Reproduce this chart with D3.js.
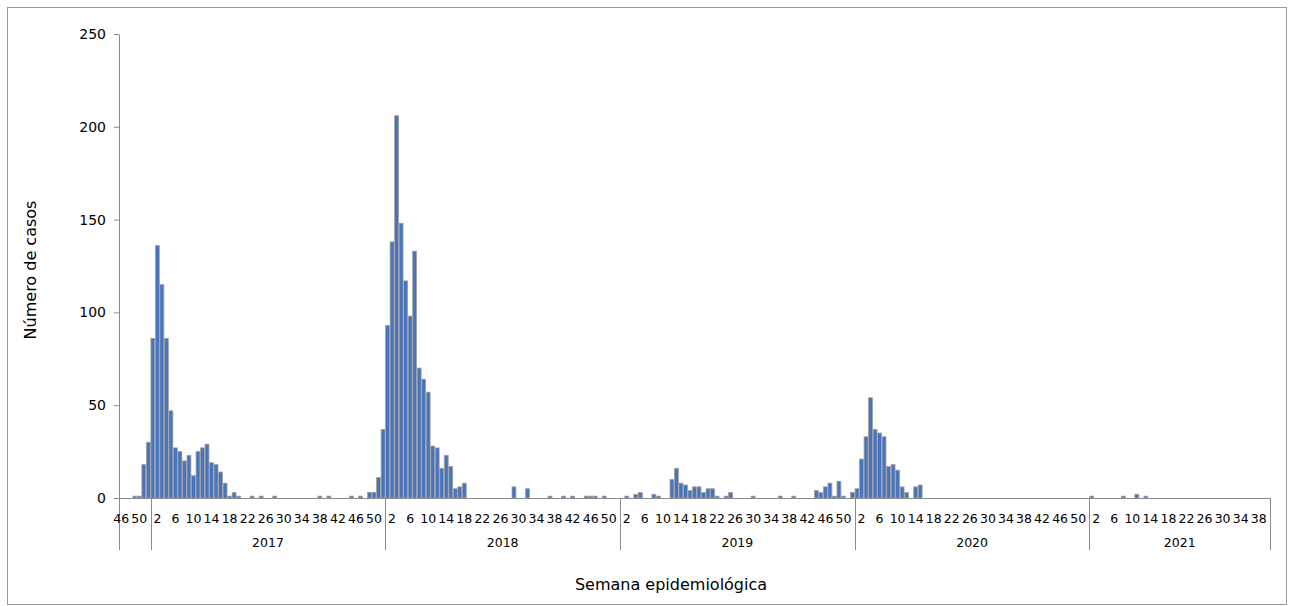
<!DOCTYPE html>
<html>
<head>
<meta charset="utf-8">
<script src="https://cdn.jsdelivr.net/npm/d3@7/dist/d3.min.js"></script>
<style>
  html, body { margin: 0; padding: 0; background: #fff; }
  svg { display: block; font-family: "DejaVu Sans", Verdana, sans-serif; }
</style>
</head>
<body>
<svg id="chart" width="1295" height="606"></svg>
<script>
// ---- Data (weekly cases by epidemiological week) ----
const years = ["2016", "2017", "2018", "2019", "2020", "2021"];
const firstWeeks = [46, 1, 1, 1, 1, 1];
const yearLabels = ["", "2017", "2018", "2019", "2020", "2021"];

const cases2016 = [0, 0, 0, 1, 1, 18, 30];
const cases2017 = [86, 136, 115, 86, 47, 27, 25, 20, 23, 12, 25, 27, 29, 19, 18, 14, 8, 1, 3, 1,
                   0, 0, 1, 0, 1, 0, 0, 1, 0, 0, 0, 0, 0, 0, 0, 0, 0, 1, 0, 1,
                   0, 0, 0, 0, 1, 0, 1, 0, 3, 3, 11, 37];
const cases2018 = [93, 138, 206, 148, 117, 98, 133, 70, 64, 57, 28, 27, 16, 23, 17, 5, 6, 8, 0, 0,
                   0, 0, 0, 0, 0, 0, 0, 0, 6, 0, 0, 5, 0, 0, 0, 0, 1, 0, 0, 1,
                   0, 1, 0, 0, 1, 1, 1, 0, 1, 0, 0, 0];
const cases2019 = [0, 1, 0, 2, 3, 0, 0, 2, 1, 0, 0, 10, 16, 8, 7, 4, 6, 6, 3, 5,
                   5, 1, 0, 1, 3, 0, 0, 0, 0, 1, 0, 0, 0, 0, 0, 1, 0, 0, 1, 0,
                   0, 0, 0, 4, 3, 6, 8, 1, 9, 1, 0, 3];
const cases2020 = [5, 21, 33, 54, 37, 35, 33, 17, 18, 15, 6, 3, 0, 6, 7, 0, 0, 0, 0, 0,
                   0, 0, 0, 0, 0, 0, 0, 0, 0, 0, 0, 0, 0, 0, 0, 0, 0, 0, 0, 0,
                   0, 0, 0, 0, 0, 0, 0, 0, 0, 0, 0, 0];
const cases2021 = [1, 0, 0, 0, 0, 0, 0, 1, 0, 0, 2, 0, 1, 0, 0, 0, 0, 0, 0, 0,
                   0, 0, 0, 0, 0, 0, 0, 0, 0, 0, 0, 0, 0, 0, 0, 0, 0, 0, 0, 0];
const casesByYear = [cases2016, cases2017, cases2018, cases2019, cases2020, cases2021];

const yTicks = [0, 50, 100, 150, 200, 250];
const labelEvery = 4;
const yTitle = "Número de casos";
const xTitle = "Semana epidemiológica";

(function () {
// ---- Build flat category table ----
const rows = [];
const groups = [];
casesByYear.forEach((arr, gi) => {
  const start = rows.length;
  arr.forEach((v, k) => rows.push({ year: years[gi], week: firstWeeks[gi] + k, value: v }));
  groups.push({ label: yearLabels[gi], start: start, end: rows.length });
});
const n = rows.length;

// ---- Layout ----
const svg = d3.select("#chart");
const pl = 119, pr = 1270, pt = 34, pb = 498;
const axisColor = "#8a8a8a";

svg.append("rect")
  .attr("x", 7.5).attr("y", 7.5).attr("width", 1279).attr("height", 597)
  .attr("fill", "#fff").attr("stroke", "#9a9a9a").attr("stroke-width", 1);

const xEdge = d3.scaleLinear().domain([0, n]).range([pl, pr]);
const pad = 0.14;
const x = d3.scaleBand().domain(d3.range(n)).range([pl, pr])
  .paddingInner(pad).paddingOuter(pad / 2);
const y = d3.scaleLinear().domain([0, 250]).range([pb, pt]);

// Y axis
const yAxis = svg.append("g")
  .attr("transform", `translate(${pl},0)`)
  .call(d3.axisLeft(y).tickValues(yTicks).tickSize(5).tickPadding(8).tickSizeOuter(0));
yAxis.select(".domain").attr("stroke", axisColor);
yAxis.selectAll(".tick line").attr("stroke", axisColor);
yAxis.selectAll(".tick text")
  .attr("font-family", "DejaVu Sans, Verdana, sans-serif")
  .attr("font-size", 14).attr("fill", "#000");

// Bars
svg.append("g").selectAll("rect")
  .data(rows)
  .join("rect")
  .attr("x", (d, i) => x(i))
  .attr("width", x.bandwidth())
  .attr("y", d => y(d.value))
  .attr("height", d => pb - y(d.value))
  .attr("fill", "#4874be")
  .attr("stroke", "#a0a0a0")
  .attr("stroke-width", 0.8);

// X axis line
svg.append("line")
  .attr("x1", pl).attr("x2", pr).attr("y1", pb + 0.5).attr("y2", pb + 0.5)
  .attr("stroke", axisColor);

// Group separators
const seps = [0].concat(groups.map(g => g.end));
svg.append("g").selectAll("line")
  .data(seps)
  .join("line")
  .attr("x1", d => Math.round(xEdge(d)) + 0.5)
  .attr("x2", d => Math.round(xEdge(d)) + 0.5)
  .attr("y1", pb).attr("y2", 550)
  .attr("stroke", axisColor);

// Week labels
svg.append("g").selectAll("text")
  .data(rows.map((d, i) => ({ d, i })).filter(o => o.i % labelEvery === 0))
  .join("text")
  .attr("x", o => x(o.i) + x.bandwidth() / 2)
  .attr("y", 523)
  .attr("text-anchor", "middle")
  .attr("font-size", 12.5)
  .text(o => o.d.week);

// Year labels
svg.append("g").selectAll("text")
  .data(groups)
  .join("text")
  .attr("x", g => (xEdge(g.start) + xEdge(g.end)) / 2)
  .attr("y", 547)
  .attr("text-anchor", "middle")
  .attr("font-size", 12.5)
  .text(g => g.label);

// Axis titles
svg.append("text")
  .attr("x", 671).attr("y", 590)
  .attr("text-anchor", "middle")
  .attr("font-size", 16)
  .text(xTitle);

svg.append("text")
  .attr("transform", "translate(36,270) rotate(-90)")
  .attr("text-anchor", "middle")
  .attr("font-size", 16)
  .text(yTitle);
})();
</script>
</body>
</html>
